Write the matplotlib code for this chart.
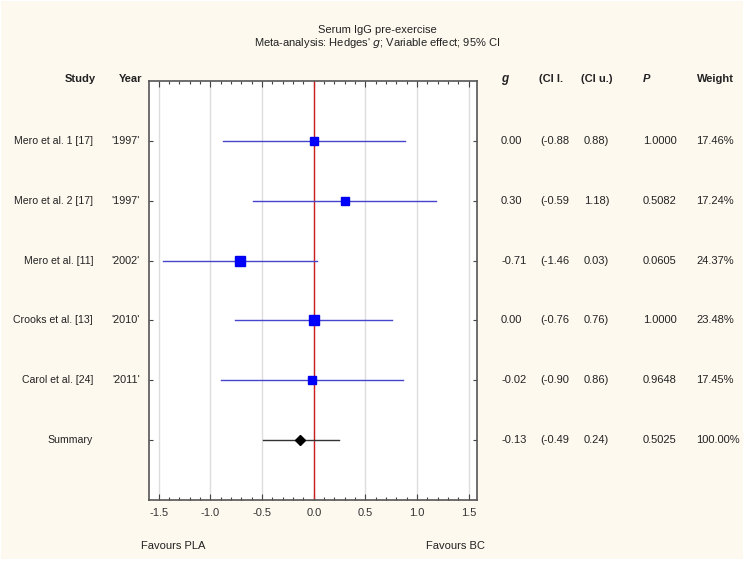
import numpy as np
import matplotlib.pyplot as plt
import matplotlib as mpl
from matplotlib.transforms import blended_transform_factory
from matplotlib.patches import Rectangle

studies = ['Mero et al. 1 [17]', 'Mero et al. 2 [17]', 'Mero et al. [11]',
           'Crooks et al. [13]', 'Carol et al. [24]', 'Summary']
years = ["'1997'", "'1997'", "'2002'", "'2010'", "'2011'", '']
g = [0.00, 0.30, -0.71, 0.00, -0.02, -0.13]
ci_lo = [-0.88, -0.59, -1.46, -0.76, -0.90, -0.49]
ci_hi = [0.88, 1.18, 0.03, 0.76, 0.86, 0.24]
p_val = [1.0000, 0.5082, 0.0605, 1.0000, 0.9648, 0.5025]
weight = [17.46, 17.24, 24.37, 23.48, 17.45, 100.00]

W, H = 753, 567

plt.rcParams['font.family'] = ['Liberation Sans', 'DejaVu Sans']
plt.rcParams['axes.unicode_minus'] = False
plt.rcParams['mathtext.fontset'] = 'custom'
plt.rcParams['mathtext.rm'] = 'Liberation Sans Narrow'
plt.rcParams['mathtext.it'] = 'Liberation Sans Narrow:italic'

narrow = ['Liberation Sans Narrow', 'Liberation Sans']
txt = '#222222'


def fx(px):
    return px / W


def fy(py):
    return 1 - py / H


fig = plt.figure(figsize=(W / 100, H / 100), dpi=100)
fig.patch.set_facecolor('white')
fig.patches.append(Rectangle((fx(1), fy(559)), fx(742), 558 / H,
                             transform=fig.transFigure, facecolor='#fdf9ef',
                             edgecolor='none', zorder=-10))

ax = fig.add_axes([fx(148.5), fy(500), fx(477 - 148.5), (500 - 81) / H])
ax.set_facecolor('white')

rows = np.arange(1, len(studies) + 1)
for i, r in enumerate(rows):
    if studies[i] == 'Summary':
        ax.plot([ci_lo[i], ci_hi[i]], [r, r], color='#333333', lw=1.0, zorder=3)
        ax.plot(g[i], r, marker='D', color='black', ms=5, zorder=4)
    else:
        ax.plot([ci_lo[i], ci_hi[i]], [r, r], color='#4444cc', lw=1.0, zorder=3)
        ms = 5.6 * np.sqrt(weight[i] / 17.46)
        ax.plot(g[i], r, marker='s', color='#0000ff', mec='#0000ee',
                ms=ms, zorder=4)

ax.axvline(0, color='#cc1f1f', lw=1.0, zorder=2)

ax.set_xlim(-1.6, 1.58)
ax.set_ylim(7.0, 0.0)
ax.set_xticks(np.arange(-1.5, 1.51, 0.5))
ax.set_xticks(np.arange(-1.5, 1.51, 0.1), minor=True)
ax.set_xticklabels(['%.1f' % v for v in np.arange(-1.5, 1.51, 0.5)],
                   fontsize=8, color='#333333')
ax.set_yticks(rows)
ax.set_yticklabels([])
ax.grid(axis='x', which='major', color='#dddddd', lw=1.0, zorder=0)
ax.set_axisbelow(True)
ax.tick_params(axis='x', which='both', direction='in', top=True, bottom=True,
               color='#444444', pad=6)
ax.tick_params(axis='x', which='major', length=4, width=0.8)
ax.tick_params(axis='x', which='minor', length=2.5, width=0.8)
ax.tick_params(axis='y', direction='in', left=True, right=True, length=3,
               width=0.8, color='#444444')
for s in ax.spines.values():
    s.set_color('#555555')
    s.set_linewidth(1.2)

# titles
fig.text(fx(377), fy(30), 'Serum IgG pre-exercise', ha='center', va='center',
         fontsize=8, family=narrow, color=txt)
fig.text(fx(377), fy(43), "Meta-analysis: Hedges' $g$; Variable effect; 95% CI",
         ha='center', va='center', fontsize=8, family=narrow, color=txt)

# column headers
hy = fy(79)
fig.text(fx(96), hy, 'Study', ha='right', va='center', fontsize=8,
         weight='bold', family=narrow, color=txt)
fig.text(fx(142), hy, 'Year', ha='right', va='center', fontsize=8,
         weight='bold', family=narrow, color=txt)
fig.text(fx(501), hy, 'g', ha='left', va='center', fontsize=8.5,
         weight='bold', style='italic', color=txt)
fig.text(fx(539), hy, '(CI l.', ha='left', va='center', fontsize=8,
         weight='bold', family=narrow, color=txt)
fig.text(fx(581), hy, '(CI u.)', ha='left', va='center', fontsize=8,
         weight='bold', family=narrow, color=txt)
fig.text(fx(643), hy, 'P', ha='left', va='center', fontsize=8,
         weight='bold', style='italic', family=narrow, color=txt)
fig.text(fx(697), hy, 'Weight', ha='left', va='center', fontsize=8,
         weight='bold', family=narrow, color=txt)

# row texts
tr = blended_transform_factory(fig.transFigure, ax.transData)
for i, r in enumerate(rows):
    kw = dict(transform=tr, va='center', color=txt)
    fig.text(fx(93), r, studies[i], ha='right', fontsize=7.6, **kw)
    fig.text(fx(140), r, years[i], ha='right', fontsize=7.8, **kw)
    fig.text(fx(501), r, '%.2f' % g[i], ha='left', fontsize=8, **kw)
    fig.text(fx(540), r, '(%.2f' % ci_lo[i], ha='left', fontsize=8, **kw)
    fig.text(fx(584), r, '%.2f)' % ci_hi[i], ha='left', fontsize=8, **kw)
    fig.text(fx(643), r, '%.4f' % p_val[i], ha='left', fontsize=8, **kw)
    fig.text(fx(696), r, '%.2f%%' % weight[i], ha='left', fontsize=8, **kw)

fig.text(fx(141), fy(546), 'Favours PLA', ha='left', va='center',
         fontsize=8, color=txt)
fig.text(fx(485), fy(546), 'Favours BC', ha='right', va='center',
         fontsize=8, color=txt)

fig.savefig('out.png', dpi=100, facecolor=fig.get_facecolor())
